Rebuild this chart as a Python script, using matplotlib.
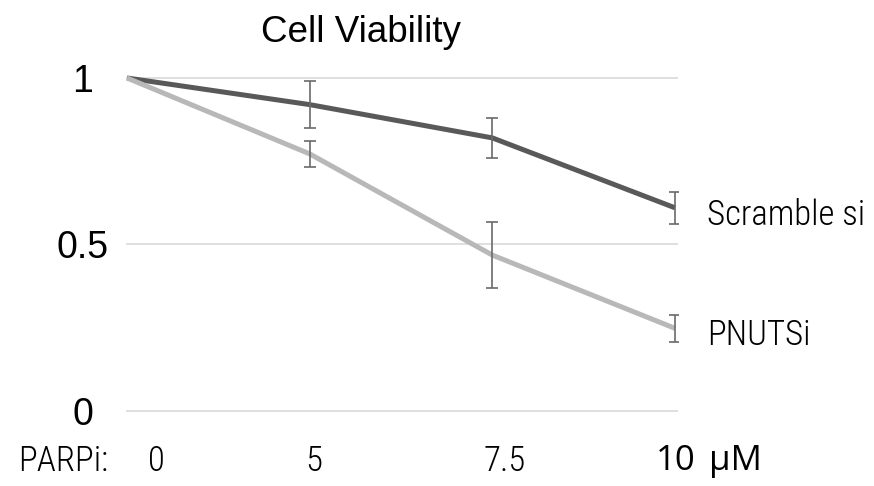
import matplotlib
matplotlib.use("Agg")
import matplotlib.pyplot as plt
import matplotlib.transforms as mtransforms
from matplotlib.font_manager import fontManager

# ---- data ----
doses = ["0", "5", "7.5", "10"]
scramble = [1.0, 0.92, 0.82, 0.61]
scramble_err = [0.0, 0.07, 0.06, 0.049]
pnuts = [1.0, 0.772, 0.468, 0.248]
pnuts_err = [0.0, 0.04, 0.10, 0.04]
series_names = ["Scramble si", "PNUTSi"]
y_ticks = [0, 0.5, 1]
y_tick_labels = ["0", "0.5", "1"]
title = "Cell Viability"
x_prefix = "PARPi:"
x_unit = "\u03bcM"

# pick a condensed face if one is installed
names = {f.name for f in fontManager.ttflist}
cond = None
for cand in ["Liberation Sans Narrow", "DejaVu Sans Condensed", "Roboto Condensed",
             "Open Sans Condensed", "Noto Sans Condensed"]:
    if cand in names:
        cond = cand
        break
if cond is None:
    cond_faces = [f for f in fontManager.ttflist
                  if f.stretch in ("condensed", "semi-condensed", 500 - 125, 375)
                  and f.style == "normal" and f.weight in ("normal", 400, "regular")]
    if cond_faces:
        cond = cond_faces[0].name
narrow = ([cond] if cond else []) + ["Liberation Sans", "DejaVu Sans"]
nscale = 1.0 if cond else 0.84
nweight = "light"

W, H = 874, 486
fig = plt.figure(figsize=(W / 100, H / 100), dpi=100)
ax = fig.add_axes([126 / W, 0.1202, (678 - 126) / W, 0.7536])

x = list(range(len(doses)))
dark = "#595959"
light = "#b8b8b8"
ecol = "#6a6a6a"

ax.plot(x, scramble, color=dark, lw=3.6, solid_capstyle="butt", zorder=3, clip_on=False)
ax.plot(x, pnuts, color=light, lw=3.6, solid_capstyle="butt", zorder=3, clip_on=False)
ax.errorbar(x[1:], scramble[1:], yerr=scramble_err[1:], fmt="none", ecolor=ecol,
            elinewidth=1.2, capsize=4.3, capthick=1.2, zorder=4)
ax.errorbar(x[1:], pnuts[1:], yerr=pnuts_err[1:], fmt="none", ecolor=ecol,
            elinewidth=1.2, capsize=4.3, capthick=1.2, zorder=4)

ax.set_xlim(-0.0055, 3.016)
ax.set_ylim(-0.05, 1.05)
for s in ax.spines.values():
    s.set_visible(False)
ax.set_xticks([])
ax.set_yticks(y_ticks)
ax.set_yticklabels(y_tick_labels, fontsize=27, family=["Liberation Sans", "DejaVu Sans"], ha="center")
ax.tick_params(axis="y", length=0, pad=31)
for yv in y_ticks:
    ax.axhline(yv, color="#d9d9d9", lw=1.2, zorder=1)

# series labels at line ends
off = mtransforms.offset_copy(ax.transData, fig=fig, x=32, y=-7, units="dots")
ax.text(x[-1], scramble[-1], series_names[0], transform=off, fontsize=25 * nscale,
        family=narrow, weight=nweight, va="center", ha="left")
ax.text(x[-1], pnuts[-1], series_names[1], transform=off, fontsize=25 * nscale,
        family=narrow, weight=nweight, va="center", ha="left")

# x labels
btr = mtransforms.blended_transform_factory(ax.transData, ax.transAxes)
label_shift = [0.159, 0.024, 0.069, 0.0]
for xi, lab, sh in zip(x, doses[:-1], label_shift[:-1]):
    ax.text(xi + sh, -0.091, lab, transform=btr, fontsize=25 * nscale, family=narrow,
            weight=nweight, ha="center", va="center")
ax.text(x[-1] + 0.005, -0.091, doses[-1], transform=btr, fontsize=25,
        family=["Open Sans", "DejaVu Sans"], ha="center", va="center")
ax.text(3.33, -0.091, x_unit, transform=btr, fontsize=25,
        family=["Open Sans", "DejaVu Sans"], ha="center", va="center")
ax.text(-0.35, -0.091, x_prefix, transform=btr, fontsize=25 * nscale, family=narrow,
        weight=nweight, ha="center", va="center")

fig.text(361 / W, 1 - 32 / H, title, fontsize=26.5, family=["Liberation Sans", "DejaVu Sans"],
         ha="center", va="center")

fig.savefig("out.png", dpi=100)
